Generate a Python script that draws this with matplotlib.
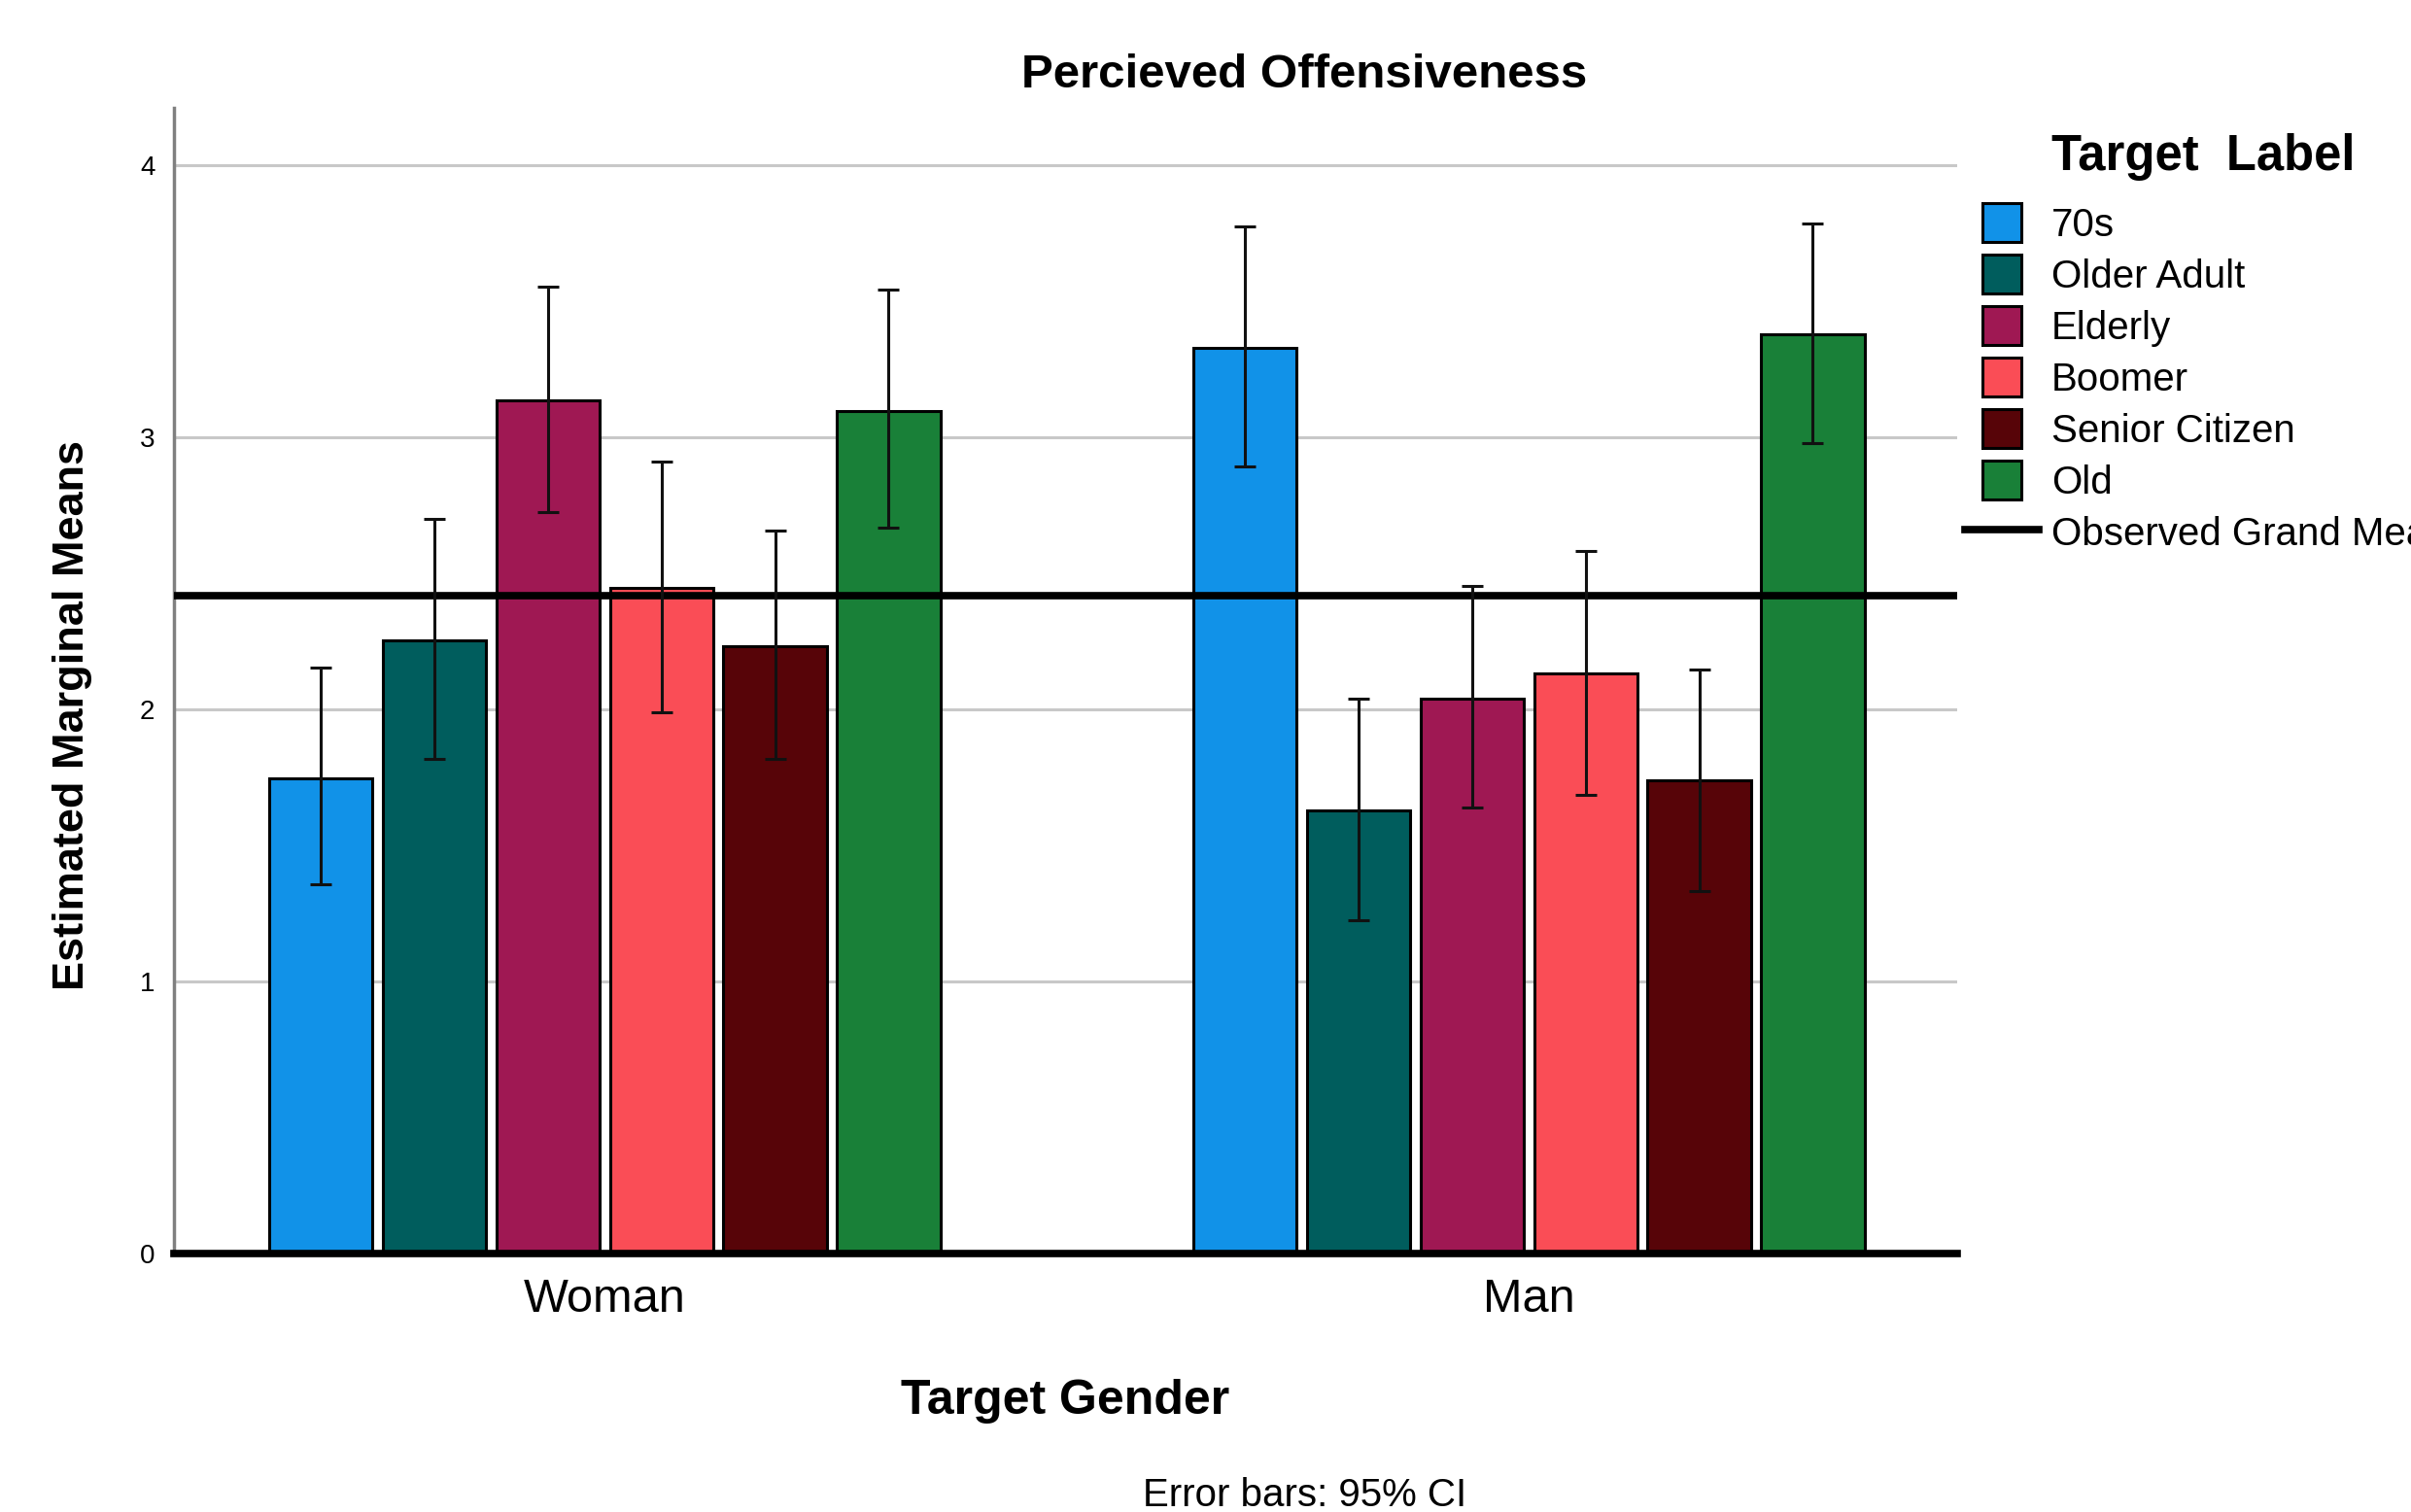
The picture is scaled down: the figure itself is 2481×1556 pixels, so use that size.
import matplotlib
matplotlib.use("Agg")
import matplotlib.pyplot as plt
import numpy as np
from matplotlib.patches import Rectangle, Patch
from matplotlib.lines import Line2D
from matplotlib.legend_handler import HandlerPatch

plt.rcParams['font.family'] = ['Liberation Sans', 'DejaVu Sans']

groups = ["Woman", "Man"]
labels = ["70s", "Older Adult", "Elderly", "Boomer", "Senior Citizen", "Old"]
colors = ["#1192e8", "#005d5d", "#9f1853", "#fa4d56", "#570408", "#198038"]

means_woman = [1.746, 2.254, 3.136, 2.446, 2.232, 3.096]
lo_woman = [1.356, 1.819, 2.723, 1.989, 1.819, 2.667]
hi_woman = [2.153, 2.700, 3.554, 2.910, 2.655, 3.542]

means_man = [3.328, 1.627, 2.040, 2.130, 1.740, 3.379]
lo_man = [2.893, 1.226, 1.638, 1.684, 1.333, 2.977]
hi_man = [3.774, 2.040, 2.452, 2.582, 2.147, 3.785]

grand_mean = 2.418
yticks = [0, 1, 2, 3, 4]

fig = plt.figure(figsize=(24.81, 15.56), dpi=100)
ax = fig.add_axes([0.0721, 0.1709, 0.8119 - 0.0721, 0.9288 - 0.1709])

means = np.array([means_woman, means_man])
lo = np.array([lo_woman, lo_man])
hi = np.array([hi_woman, hi_man])

step = 0.123
bw = 0.1115
for gi in range(len(groups)):
    for i in range(len(labels)):
        x = gi + (i - 2.5) * step
        ax.bar(x, means[gi, i], width=bw, color=colors[i], edgecolor="black",
               linewidth=2.2, zorder=3)
        ax.errorbar(x, means[gi, i],
                    yerr=[[means[gi, i] - lo[gi, i]], [hi[gi, i] - means[gi, i]]],
                    fmt="none", ecolor="#111111", elinewidth=2.2, capsize=8,
                    capthick=2.2, zorder=5)

ax.axhline(grand_mean, color="black", linewidth=5.5, zorder=4)

ax.set_xlim(-0.466, 1.464)
ax.set_ylim(0, 4.21)
ax.set_yticks(yticks)
ax.set_yticklabels([str(t) for t in yticks], fontsize=20)
ax.set_xticks([0, 1])
ax.set_xticklabels(groups, fontsize=35)
ax.tick_params(axis="y", length=0, pad=14)
ax.tick_params(axis="x", length=0, pad=18)
ax.yaxis.grid(True, color="#c8c8c8", linewidth=2.2, zorder=0)
ax.set_axisbelow(True)
for s in ["top", "right"]:
    ax.spines[s].set_visible(False)
ax.spines["left"].set_color("#808080")
ax.spines["left"].set_linewidth(2.5)
ax.spines["bottom"].set_color("black")
ax.spines["bottom"].set_linewidth(5.5)
ax.spines["bottom"].set_zorder(6)

fig.text(0.541, 0.950, "Percieved Offensiveness", fontsize=35.5, fontweight="bold",
         ha="center", va="center")
fig.text(0.030, 0.527, "Estimated Marginal Means", fontsize=32.5, fontweight="bold",
         ha="center", va="center", rotation=90)
fig.text(0.442, 0.073, "Target Gender", fontsize=36, fontweight="bold",
         ha="center", va="center")
fig.text(0.541, 0.011, "Error bars: 95% CI", fontsize=29, ha="center", va="center")
fig.text(0.851, 1 - 162 / 1556, "Target  Label", fontsize=36.5, fontweight="bold",
         ha="left", va="center")


def square_patch(legend, orig_handle, xdescent, ydescent, width, height, fontsize):
    s = 28.8
    return Rectangle((-xdescent + (width - s) / 2, -ydescent + (height - s) / 2), s, s)


handles = [Patch(facecolor=c, edgecolor="black", linewidth=2.2) for c in colors]
handles.append(Line2D([], [], color="black", linewidth=5.5))
leg_labels = labels + ["Observed Grand Mean"]
leg = fig.legend(handles, leg_labels, loc="center left",
                 bbox_to_anchor=(2022 / 2481, 1 - 390 / 1556),
                 frameon=False, fontsize=29, borderpad=0, borderaxespad=0,
                 handlelength=1.88, handleheight=1.0, handletextpad=0.33,
                 labelspacing=0.33,
                 handler_map={Patch: HandlerPatch(patch_func=square_patch)})

fig.savefig("out.png", dpi=100)
